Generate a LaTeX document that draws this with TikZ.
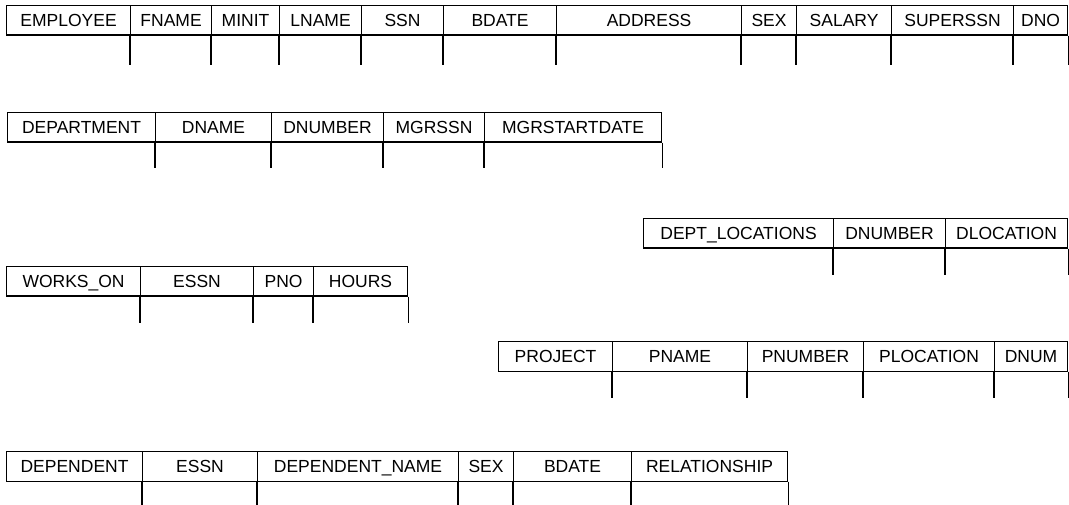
\documentclass[tikz,border=0pt]{standalone}
\usepackage{fontspec}
\setmainfont{Liberation Sans}
\begin{document}
\begin{tikzpicture}[x=1pt,y=-1pt,
  cell/.style={draw, line width=1.1pt, inner sep=0pt, minimum height=29.5pt,
    text height=12.6pt, text depth=0pt,
    anchor=north west, font=\fontsize{17.5}{20}\selectfont},
  stub/.style={line width=1.1pt}]
\useasboundingbox (0,0) rectangle (1069,505);
% one relation: prefix, top of header, length of the column stubs, cells x0/x1/label
\newcommand\relrow[4]{%
  \foreach \xa/\xb/\lab [count=\i] in {#4} {
    \pgfmathsetmacro\w{\xb-\xa}
    \node[cell, minimum width=\w pt] (#1-\i) at (\xa,#2) {\lab};
    \ifnum\i>1 \draw[stub] (#1-\i.south west) -- ++(0,#3); \fi
    \xdef\lastcell{#1-\i}
  }
  \draw[stub] (\lastcell.south east) -- ++(0,#3);
}
\relrow{emp}{5}{29}{6/130/EMPLOYEE, 130/211/FNAME, 211/279/MINIT, 279/361/LNAME,
  361/443/SSN, 443/556/BDATE, 556/741/ADDRESS, 741/796/SEX, 796/891/SALARY,
  891/1013/SUPERSSN, 1013/1067/DNO}
\relrow{dept}{112}{25}{7/155/DEPARTMENT, 155/271/DNAME, 271/383/DNUMBER,
  383/484/MGRSSN, 484/661/MGRSTARTDATE}
\relrow{dloc}{218}{26}{643/833/DEPT\_LOCATIONS, 833/945/DNUMBER, 945/1067/DLOCATION}
\relrow{works}{266}{26}{6/140/WORKS\_ON, 140/253/ESSN, 253/313/PNO, 313/407/HOURS}
\relrow{proj}{341}{26}{498/612/PROJECT, 612/747/PNAME, 747/863/PNUMBER,
  863/994/PLOCATION, 994/1067/DNUM}
\relrow{dep}{451}{25}{6/142/DEPENDENT, 142/257/ESSN, 257/458/DEPENDENT\_NAME,
  458/513/SEX, 513/631/BDATE, 631/787/RELATIONSHIP}
\end{tikzpicture}
\end{document}
